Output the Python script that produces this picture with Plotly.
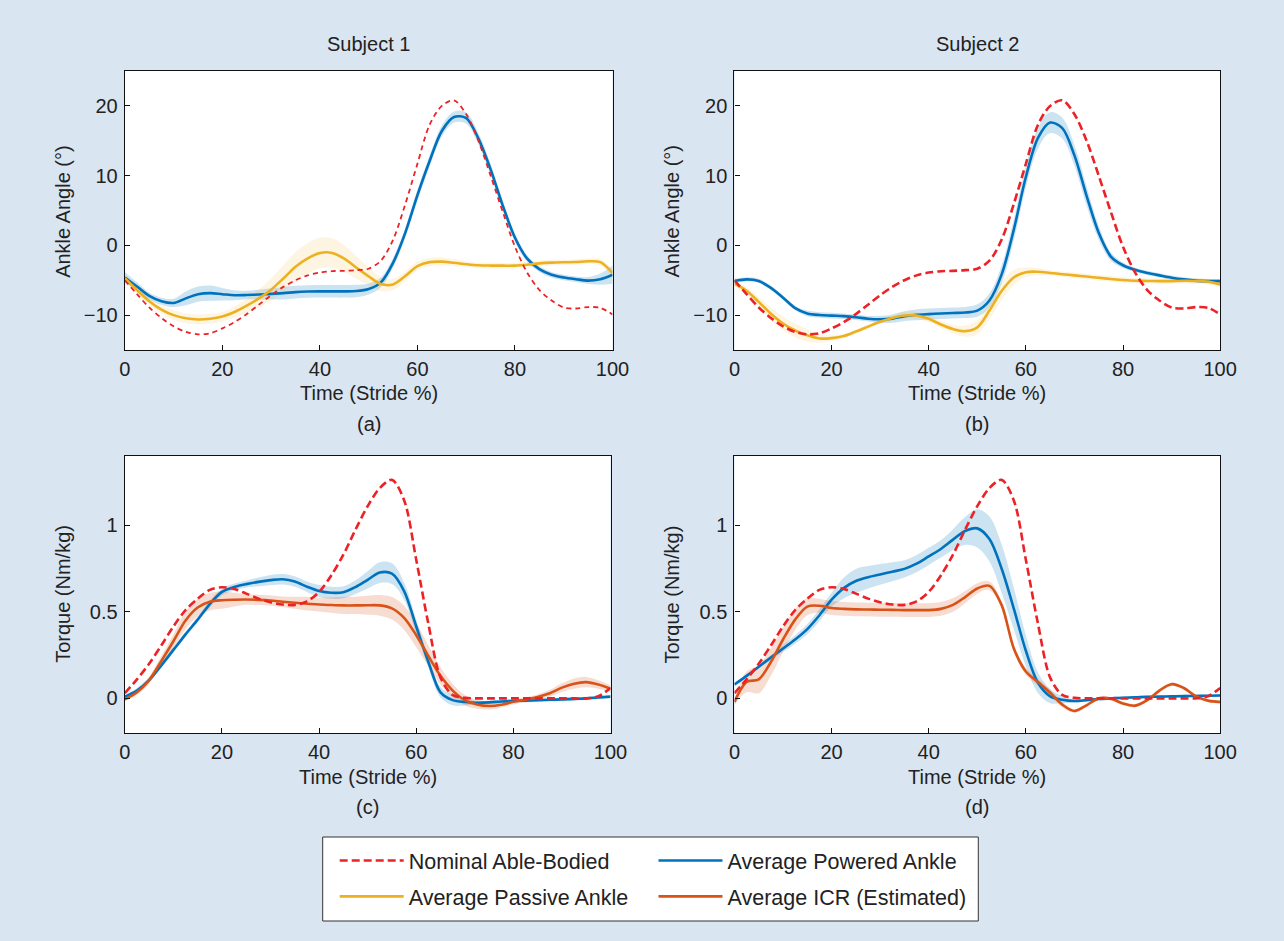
import plotly.graph_objects as go

# ---------------- data ----------------
stride = [0, 2.5, 5, 7.5, 10, 12.5, 15, 17.5, 20, 22.5, 25, 27.5, 30, 32.5, 35, 37.5, 40,
          42.5, 45, 47.5, 50, 52.5, 55, 57.5, 60, 62.5, 65, 67.5, 70, 72.5, 75, 77.5, 80,
          82.5, 85, 87.5, 90, 92.5, 95, 97.5, 100]

nominal_angle = [-5.0, -7.0, -8.9, -10.4, -11.6, -12.4, -12.75, -12.6, -11.9, -11.0, -9.85,
                 -8.5, -7.15, -5.95, -5.0, -4.3, -3.9, -3.7, -3.65, -3.55, -3.35, -2.2, 0.8,
                 5.9, 11.7, 17.3, 20.0, 20.8, 18.8, 15.0, 10.0, 4.8, -0.2, -3.9, -6.4, -7.9,
                 -8.9, -9.05, -8.85, -8.95, -9.9]

powered_angle_s1 = [-4.6, -5.9, -7.25, -8.0, -8.25, -7.6, -7.0, -6.85, -7.0, -7.15, -7.12,
                    -7.05, -6.95, -6.85, -6.7, -6.62, -6.59, -6.59, -6.59, -6.55, -6.25, -5.3,
                    -2.5, 1.8, 7.2, 12.1, 16.4, 18.4, 18.25, 15.3, 10.9, 5.7, 1.1, -1.9, -3.4,
                    -4.2, -4.6, -4.85, -5.05, -4.85, -4.2]
powered_angle_sd_s1 = [0.8, 0.6, 0.5, 0.5, 0.6, 1.0, 1.1, 1.1, 0.9, 0.7, 0.6, 0.7, 0.8, 0.9,
                       0.9, 0.9, 0.9, 0.9, 0.9, 0.9, 0.8, 0.7, 0.7, 0.7, 0.8, 0.8, 0.8, 0.8,
                       0.8, 0.8, 0.8, 0.7, 0.6, 0.5, 0.4, 0.4, 0.4, 0.4, 0.5, 0.8, 1.3]

passive_angle_s1 = [-4.7, -6.4, -8.0, -9.2, -10.0, -10.45, -10.62, -10.52, -10.2, -9.55, -8.65,
                    -7.6, -6.35, -4.75, -3.05, -1.85, -1.09, -1.08, -1.9, -3.2, -4.45, -5.55,
                    -5.6, -4.4, -2.96, -2.4, -2.33, -2.5, -2.7, -2.86, -2.9, -2.91, -2.9, -2.77,
                    -2.58, -2.47, -2.42, -2.39, -2.28, -2.4, -3.96]
passive_angle_sd_s1 = [0.6, 0.6, 0.6, 0.6, 0.7, 0.7, 0.7, 0.7, 0.7, 0.8, 1.0, 1.3, 1.6, 1.9,
                       2.1, 2.2, 2.2, 2.1, 1.9, 1.6, 1.3, 1.0, 0.8, 0.7, 0.6, 0.6, 0.6, 0.5,
                       0.4, 0.4, 0.4, 0.4, 0.4, 0.4, 0.4, 0.4, 0.4, 0.4, 0.4, 0.5, 0.6]

powered_angle_s2 = [-5.1, -4.88, -5.1, -6.1, -7.5, -9.0, -9.75, -9.98, -10.07, -10.15, -10.3,
                    -10.52, -10.6, -10.5, -10.15, -9.95, -9.85, -9.77, -9.7, -9.63, -9.35, -7.9,
                    -4.2, 2.2, 9.8, 15.4, 17.6, 16.8, 12.9, 7.1, 1.8, -1.6, -2.85, -3.5, -3.95,
                    -4.3, -4.63, -4.88, -5.06, -5.12, -5.12]
powered_angle_sd_s2 = [0.3, 0.3, 0.3, 0.3, 0.3, 0.3, 0.4, 0.4, 0.4, 0.4, 0.4, 0.4, 0.5, 0.6,
                       0.7, 0.8, 0.8, 0.8, 0.8, 0.8, 0.9, 1.0, 1.3, 1.5, 1.5, 1.5, 1.5, 1.5,
                       1.5, 1.4, 1.0, 0.6, 0.4, 0.3, 0.3, 0.3, 0.3, 0.3, 0.3, 0.3, 0.3]

passive_angle_s2 = [-5.5, -6.5, -8.1, -9.8, -11.2, -12.2, -12.9, -13.35, -13.3, -13.0, -12.35,
                    -11.65, -10.95, -10.4, -10.05, -10.05, -10.53, -11.35, -12.0, -12.3, -11.75,
                    -9.35, -6.55, -4.6, -3.85, -3.78, -3.95, -4.13, -4.3, -4.47, -4.65, -4.82,
                    -4.97, -5.07, -5.1, -5.12, -5.12, -5.08, -5.1, -5.2, -5.6]
passive_angle_sd_s2 = [0.4, 0.5, 0.7, 0.9, 1.0, 1.0, 0.9, 0.6, 0.4, 0.3, 0.3, 0.3, 0.3, 0.4,
                       0.5, 0.5, 0.5, 0.5, 0.6, 0.8, 1.0, 1.2, 1.3, 1.1, 0.7, 0.5, 0.4, 0.4,
                       0.4, 0.4, 0.4, 0.4, 0.4, 0.4, 0.4, 0.4, 0.4, 0.4, 0.4, 0.4, 0.4]

nominal_torque = [0.03, 0.11, 0.2, 0.305, 0.415, 0.51, 0.575, 0.627, 0.642, 0.632, 0.605,
                  0.576, 0.555, 0.542, 0.54, 0.56, 0.615, 0.71, 0.83, 0.975, 1.11, 1.215,
                  1.262, 1.145, 0.8, 0.43, 0.12, 0.02, 0.003, 0.0, 0.0, 0.0, 0.0, 0.0, 0.0,
                  0.0, 0.0, 0.0, 0.0, 0.012, 0.06]

powered_torque_s1 = [0.01, 0.045, 0.105, 0.19, 0.28, 0.37, 0.455, 0.545, 0.615, 0.643, 0.66,
                     0.673, 0.683, 0.688, 0.675, 0.645, 0.62, 0.61, 0.613, 0.643, 0.685, 0.727,
                     0.72, 0.62, 0.415, 0.21, 0.035, -0.01, -0.021, -0.025, -0.023, -0.018,
                     -0.015, -0.013, -0.011, -0.008, -0.006, -0.003, 0.0, 0.005, 0.01]
powered_torque_sd_s1 = [0.01, 0.015, 0.015, 0.015, 0.015, 0.015, 0.015, 0.02, 0.02, 0.02,
                        0.02, 0.025, 0.03, 0.03, 0.03, 0.03, 0.035, 0.035, 0.035, 0.04, 0.05,
                        0.06, 0.06, 0.05, 0.04, 0.03, 0.03, 0.03, 0.02, 0.01, 0.01, 0.01,
                        0.01, 0.01, 0.01, 0.01, 0.01, 0.01, 0.01, 0.01, 0.01]

icr_torque_s1 = [-0.006, 0.035, 0.105, 0.215, 0.33, 0.45, 0.525, 0.558, 0.567, 0.57, 0.571,
                 0.569, 0.565, 0.558, 0.552, 0.547, 0.542, 0.539, 0.537, 0.537, 0.538, 0.537,
                 0.52, 0.465, 0.365, 0.245, 0.13, 0.045, -0.01, -0.035, -0.044, -0.037, -0.02,
                 -0.008, 0.008, 0.03, 0.062, 0.085, 0.094, 0.08, 0.056]
icr_torque_sd_s1 = [0.01, 0.015, 0.02, 0.03, 0.04, 0.05, 0.05, 0.05, 0.05, 0.04, 0.03, 0.03,
                    0.03, 0.03, 0.035, 0.04, 0.04, 0.045, 0.05, 0.05, 0.055, 0.06, 0.065,
                    0.07, 0.07, 0.06, 0.05, 0.04, 0.03, 0.025, 0.02, 0.015, 0.015, 0.015,
                    0.015, 0.02, 0.025, 0.03, 0.03, 0.025, 0.02]

powered_torque_s2 = [0.08, 0.13, 0.183, 0.236, 0.288, 0.34, 0.4, 0.48, 0.57, 0.637, 0.678, 0.7,
                     0.716, 0.732, 0.748, 0.778, 0.82, 0.863, 0.917, 0.967, 0.982, 0.92, 0.75,
                     0.52, 0.275, 0.09, 0.012, -0.008, -0.015, -0.01, -0.004, 0.0, 0.004,
                     0.006, 0.009, 0.01, 0.012, 0.013, 0.014, 0.015, 0.017]
powered_torque_sd_s2 = [0.01, 0.01, 0.01, 0.015, 0.02, 0.025, 0.03, 0.035, 0.04, 0.06, 0.07,
                        0.065, 0.06, 0.055, 0.05, 0.05, 0.05, 0.05, 0.06, 0.08, 0.11, 0.13,
                        0.14, 0.12, 0.09, 0.06, 0.04, 0.02, 0.01, 0.008, 0.008, 0.008, 0.008,
                        0.008, 0.008, 0.008, 0.008, 0.008, 0.008, 0.008, 0.008]

icr_torque_s2 = [-0.02, 0.095, 0.11, 0.21, 0.34, 0.455, 0.53, 0.535, 0.522, 0.517, 0.514,
                 0.513, 0.512, 0.511, 0.51, 0.51, 0.51, 0.517, 0.54, 0.585, 0.635, 0.65, 0.54,
                 0.29, 0.155, 0.094, 0.033, -0.036, -0.073, -0.04, 0.0, -0.002, -0.03, -0.042,
                 -0.01, 0.045, 0.082, 0.06, 0.013, -0.013, -0.021]
icr_torque_sd_s2 = [0.02, 0.06, 0.08, 0.08, 0.07, 0.06, 0.05, 0.04, 0.04, 0.04, 0.04, 0.04,
                    0.04, 0.04, 0.04, 0.04, 0.04, 0.04, 0.04, 0.035, 0.03, 0.025, 0.02, 0.02,
                    0.02, 0.02, 0.02, 0.015, 0.01, 0.01, 0.01, 0.01, 0.01, 0.01, 0.01, 0.01,
                    0.01, 0.01, 0.01, 0.01, 0.01]

angle_ticks = [-10, 0, 10, 20]
torque_ticks = [0, 0.5, 1]
time_ticks = [0, 20, 40, 60, 80, 100]

# ---------------- styles ----------------
W, H = 1284, 941
BG = "#dae5f2"
FONT = "Liberation Sans, Arial, Helvetica, sans-serif"
TXT = "#222222"
RED = "#ec2227"
BLUE = "#0072bd"
YELLOW = "#edb120"
ORANGE = "#d95319"
BAND = {BLUE: "rgba(0,114,189,0.20)", YELLOW: "rgba(237,177,32,0.13)",
        ORANGE: "rgba(217,83,25,0.20)"}
NAMES = {RED: "Nominal Able-Bodied", BLUE: "Average Powered Ankle",
         YELLOW: "Average Passive Ankle", ORANGE: "Average ICR (Estimated)"}
LEGEND_OF = {RED: "legend", YELLOW: "legend", BLUE: "legend2", ORANGE: "legend2"}
RANK = {RED: 1, YELLOW: 2, BLUE: 1, ORANGE: 2}

# horizontal calibration of the captured page (measured on earlier renders)
CAP_SCALE, CAP_OFF = 0.9827, 5.1


def px_x(p):
    return ((p - CAP_OFF) / CAP_SCALE) / W


def px_y(p):
    return 1 - p / H


fig = go.Figure()


def add_band(mean, sd, color, xa, ya):
    lo = [m - s for m, s in zip(mean, sd)]
    hi = [m + s for m, s in zip(mean, sd)]
    fig.add_trace(go.Scatter(x=stride, y=lo, mode="lines", line=dict(width=0, shape="spline"),
                             showlegend=False, hoverinfo="skip", xaxis=xa, yaxis=ya,
                             legendgroup=NAMES[color]))
    fig.add_trace(go.Scatter(x=stride, y=hi, mode="lines", line=dict(width=0, shape="spline"),
                             fill="tonexty", fillcolor=BAND[color], showlegend=False,
                             hoverinfo="skip", xaxis=xa, yaxis=ya, legendgroup=NAMES[color]))


def add_line(y, color, xa, ya, show, dash=None, width=2.6):
    fig.add_trace(go.Scatter(
        x=stride, y=y, mode="lines", name=NAMES[color],
        line=dict(color=color, width=width, shape="spline", smoothing=0.9, dash=dash),
        showlegend=show, legend=LEGEND_OF[color], legendgroup=NAMES[color],
        legendrank=RANK[color], xaxis=xa, yaxis=ya))


# (a) Subject 1 angle
add_band(powered_angle_s1, powered_angle_sd_s1, BLUE, "x", "y")
add_band(passive_angle_s1, passive_angle_sd_s1, YELLOW, "x", "y")
add_line(powered_angle_s1, BLUE, "x", "y", False)
add_line(passive_angle_s1, YELLOW, "x", "y", False)
add_line(nominal_angle, RED, "x", "y", False, dash="5px,4px", width=1.8)

# (b) Subject 2 angle
add_band(powered_angle_s2, powered_angle_sd_s2, BLUE, "x2", "y2")
add_band(passive_angle_s2, passive_angle_sd_s2, YELLOW, "x2", "y2")
add_line(powered_angle_s2, BLUE, "x2", "y2", True)
add_line(passive_angle_s2, YELLOW, "x2", "y2", True)
add_line(nominal_angle, RED, "x2", "y2", True, dash="8px,4px", width=2.6)

# (c) Subject 1 torque
add_band(powered_torque_s1, powered_torque_sd_s1, BLUE, "x3", "y3")
add_band(icr_torque_s1, icr_torque_sd_s1, ORANGE, "x3", "y3")
add_line(powered_torque_s1, BLUE, "x3", "y3", False)
add_line(icr_torque_s1, ORANGE, "x3", "y3", True)
add_line(nominal_torque, RED, "x3", "y3", False, dash="8px,4px", width=2.6)

# (d) Subject 2 torque
add_band(powered_torque_s2, powered_torque_sd_s2, BLUE, "x4", "y4")
add_band(icr_torque_s2, icr_torque_sd_s2, ORANGE, "x4", "y4")
add_line(powered_torque_s2, BLUE, "x4", "y4", False)
add_line(icr_torque_s2, ORANGE, "x4", "y4", False)
add_line(nominal_torque, RED, "x4", "y4", False, dash="8px,4px", width=2.6)

axis_common = dict(showline=True, mirror=True, linecolor="#111111", linewidth=1.3,
                   ticks="inside", ticklen=5, tickwidth=1, tickcolor="#111111",
                   showgrid=False, zeroline=False, fixedrange=True,
                   tickfont=dict(family=FONT, size=20, color=TXT))

LEFT = (124, 612)
RIGHT = (734, 1220)
TOP = (71, 350)
BOTTOM = (456, 733)

layout_axes = {}
panels = [("", LEFT, TOP, angle_ticks, [-15, 25]),
          ("2", RIGHT, TOP, angle_ticks, [-15, 25]),
          ("3", (124, 610), BOTTOM, torque_ticks, [-0.2, 1.4]),
          ("4", RIGHT, BOTTOM, torque_ticks, [-0.2, 1.4])]
for suf, (xl, xr), (yt, yb), yt_vals, yr in panels:
    layout_axes["xaxis" + suf] = dict(axis_common, domain=[px_x(xl), px_x(xr)],
                                      anchor="y" + suf, range=[0, 100], tickvals=time_ticks,
                                      ticklabelstandoff=1)
    layout_axes["yaxis" + suf] = dict(axis_common, domain=[px_y(yb), px_y(yt)],
                                      anchor="x" + suf, range=yr, tickvals=yt_vals,
                                      ticklabelstandoff=2)

annotations = []


def note(text, x, y, size=20, angle=0):
    annotations.append(dict(text=text, x=px_x(x), y=px_y(y), xref="paper", yref="paper",
                            showarrow=False, textangle=angle, xanchor="center",
                            yanchor="middle", font=dict(family=FONT, size=size, color=TXT)))


note("Subject 1", 368, 44)
note("Subject 2", 977, 44)
note("Ankle Angle (°)", 62, 211, angle=-90)
note("Ankle Angle (°)", 672, 211, angle=-90)
note("Torque (Nm/kg)", 62, 594, angle=-90)
note("Torque (Nm/kg)", 672, 594, angle=-90)
note("Time (Stride %)", 368, 393)
note("Time (Stride %)", 977, 393)
note("Time (Stride %)", 367, 777)
note("Time (Stride %)", 977, 777)
note("(a)", 368, 424)
note("(b)", 977, 424)
note("(c)", 367, 807)
note("(d)", 977, 807)

legend_common = dict(orientation="v", bgcolor="rgba(0,0,0,0)", borderwidth=0,
                     font=dict(family=FONT, size=21.5, color=TXT), traceorder="grouped",
                     tracegroupgap=5, itemwidth=64, xanchor="left", yanchor="top",
                     itemclick=False, itemdoubleclick=False)

fig.update_layout(
    width=W, height=H, autosize=False,
    margin=dict(l=0, r=0, t=0, b=0),
    paper_bgcolor=BG, plot_bgcolor="white",
    font=dict(family=FONT, size=20, color=TXT),
    annotations=annotations,
    legend=dict(legend_common, x=px_x(334), y=px_y(840)),
    legend2=dict(legend_common, x=px_x(653), y=px_y(840)),
    shapes=[dict(type="rect", xref="paper", yref="paper", x0=px_x(322), x1=px_x(978),
                 y0=px_y(921), y1=px_y(837), line=dict(color="#333333", width=1),
                 fillcolor="white", layer="below")],
    **layout_axes,
)

fig.write_html(
    "out.html",
    config={"responsive": False, "displayModeBar": False},
    post_script=("document.body.style.margin='0px';document.body.style.overflow='hidden';"
                 "document.body.style.background='" + BG + "';"
                 "document.documentElement.style.background='" + BG + "';"),
)
